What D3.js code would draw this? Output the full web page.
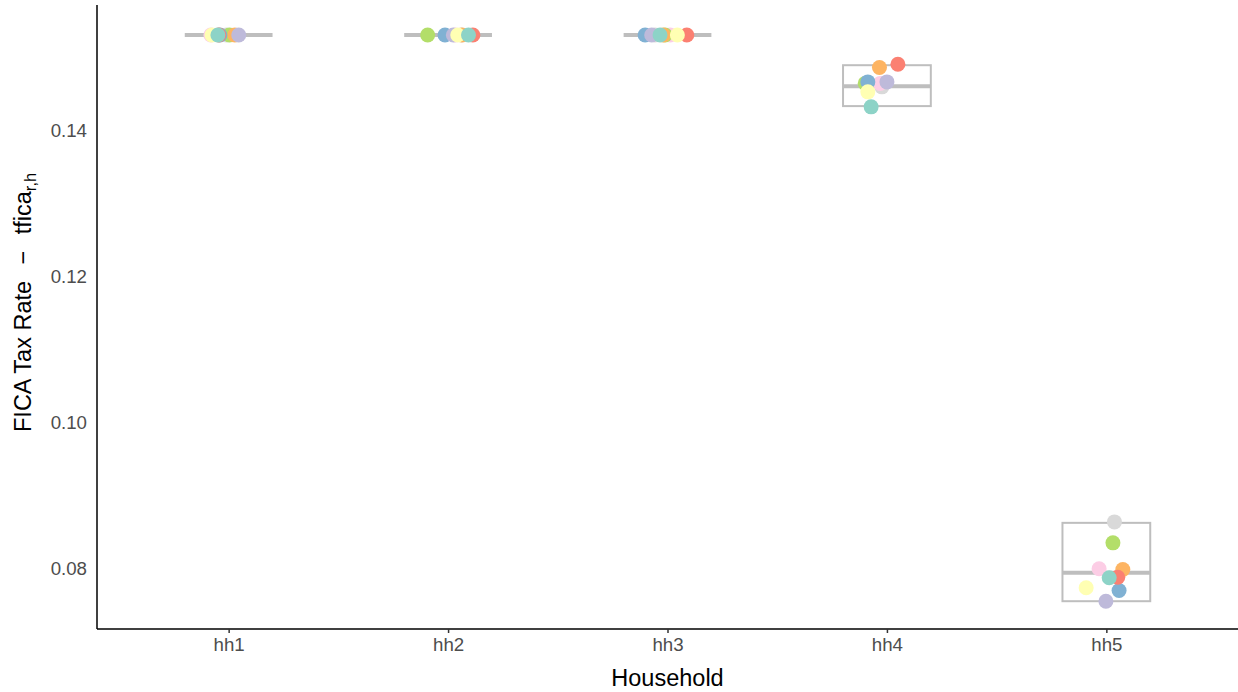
<!DOCTYPE html>
<html>
<head>
<meta charset="utf-8">
<script src="https://cdn.jsdelivr.net/npm/d3@7"></script>
<style>
  body { margin: 0; background: #fff; }
  text { font-family: "Liberation Sans", Arial, Helvetica, sans-serif; }
  .tick-label { fill: #4d4d4d; font-size: 18.7px; }
  .axis-title { fill: #000; font-size: 23.5px; }
</style>
</head>
<body>
<div id="vis"></div>
<script>
const frame_width = 1238;
const frame_height = 692;
const margins = {left: 97, right: 0, top: 5, bottom: 63};

// households on the x axis
const households = ["hh1", "hh2", "hh3", "hh4", "hh5"];

// series, drawn in this order (last on top)
const series = ["s9", "s8", "s7", "s6", "s5", "s4", "s3", "s2", "s1"];
const series_color = {
    s1: "#8DD3C7", s2: "#FFFFB3", s3: "#BEBADA", s4: "#FB8072", s5: "#80B1D3",
    s6: "#FDB462", s7: "#B3DE69", s8: "#FCCDE5", s9: "#D9D9D9"
};

// fica rate per series, one value per household (hh1..hh5)
const rate_s1 = [0.153, 0.153, 0.153, 0.14318, 0.07880];
const rate_s2 = [0.153, 0.153, 0.153, 0.14523, 0.07743];
const rate_s3 = [0.153, 0.153, 0.153, 0.14659, 0.07560];
const rate_s4 = [0.153, 0.153, 0.153, 0.14901, 0.07888];
const rate_s5 = [0.153, 0.153, 0.153, 0.14659, 0.07706];
const rate_s6 = [0.153, 0.153, 0.153, 0.14856, 0.07993];
const rate_s7 = [0.153, 0.153, 0.153, 0.14638, 0.08358];
const rate_s8 = [0.153, 0.153, 0.153, 0.14638, 0.08003];
const rate_s9 = [0.153, 0.153, 0.153, 0.14591, 0.08644];

// horizontal jitter (fraction of a category step)
const jit_s1 = [-0.049, 0.093, -0.034, -0.072, 0.013];
const jit_s2 = [-0.076, 0.044, 0.045, -0.087, -0.092];
const jit_s3 = [0.046, 0.024, -0.072, 0.000, -0.002];
const jit_s4 = [-0.045, 0.113, 0.088, 0.050, 0.052];
const jit_s5 = [-0.040, -0.014, -0.102, -0.087, 0.058];
const jit_s6 = [0.028, 0.062, -0.019, -0.034, 0.075];
const jit_s7 = [0.004, -0.093, -0.011, -0.099, 0.030];
const jit_s8 = [-0.081, 0.032, 0.012, -0.031, -0.033];
const jit_s9 = [-0.010, 0.064, -0.057, -0.023, 0.037];

// box summaries per household
const box_low = [0.153, 0.153, 0.153, 0.14328, 0.07560];
const box_mid = [0.153, 0.153, 0.153, 0.14601, 0.07948];
const box_high = [0.153, 0.153, 0.153, 0.14887, 0.08631];

const y_ticks = [0.08, 0.10, 0.12, 0.14];

const rates = {s1: rate_s1, s2: rate_s2, s3: rate_s3, s4: rate_s4, s5: rate_s5,
               s6: rate_s6, s7: rate_s7, s8: rate_s8, s9: rate_s9};
const jitters = {s1: jit_s1, s2: jit_s2, s3: jit_s3, s4: jit_s4, s5: jit_s5,
                 s6: jit_s6, s7: jit_s7, s8: jit_s8, s9: jit_s9};

const points = [];
series.forEach(s => {
    households.forEach((h, i) => {
        points.push({series: s, hh: h, rate: rates[s][i], jit: jitters[s][i]});
    });
});

const boxes = households.map((h, i) => ({hh: h, low: box_low[i], mid: box_mid[i], high: box_high[i]}));

const FRAME =
d3.select("#vis")
    .append("svg")
        .attr("width", frame_width)
        .attr("height", frame_height);

const X_SCALE = d3.scalePoint()
    .domain(households)
    .range([margins.left, frame_width - margins.right])
    .padding(0.6);

const STEP = X_SCALE.step();

const Y_SCALE = d3.scaleLinear()
    .domain([0.0718, 0.1571])
    .range([frame_height - margins.bottom, margins.top]);

// boxes
const box_g = FRAME.append("g");
boxes.forEach(b => {
    const cx = X_SCALE(b.hh);
    const half = STEP * 0.2;
    box_g.append("rect")
        .attr("x", cx - half)
        .attr("y", Y_SCALE(b.high))
        .attr("width", half * 2)
        .attr("height", Y_SCALE(b.low) - Y_SCALE(b.high))
        .attr("fill", "none")
        .attr("stroke", "#BEBEBE")
        .attr("stroke-width", 2);
    box_g.append("line")
        .attr("x1", cx - half)
        .attr("x2", cx + half)
        .attr("y1", Y_SCALE(b.mid))
        .attr("y2", Y_SCALE(b.mid))
        .attr("stroke", "#BEBEBE")
        .attr("stroke-width", 4);
});

// points
FRAME.append("g")
    .selectAll("circle")
    .data(points)
    .enter()
    .append("circle")
        .attr("cx", d => X_SCALE(d.hh) + d.jit * STEP)
        .attr("cy", d => Y_SCALE(d.rate))
        .attr("r", 7.5)
        .attr("fill", d => series_color[d.series]);

// x axis
const x_axis = FRAME.append("g")
    .attr("transform", "translate(0," + (frame_height - margins.bottom) + ")")
    .call(d3.axisBottom(X_SCALE).tickSize(4).tickPadding(5).tickSizeOuter(0));
x_axis.select(".domain")
    .attr("stroke", "#000")
    .attr("stroke-width", 1.5)
    .attr("d", "M" + margins.left + ",0H" + (frame_width - margins.right));
x_axis.selectAll(".tick line").attr("stroke", "#333").attr("stroke-width", 1.5);
x_axis.selectAll(".tick text")
    .attr("class", "tick-label")
    .attr("font-size", null)
    .attr("font-family", null);

// y axis
const y_axis = FRAME.append("g")
    .attr("transform", "translate(" + margins.left + ",0)")
    .call(d3.axisLeft(Y_SCALE).tickValues(y_ticks).tickFormat(d3.format(".2f")).tickSize(0).tickPadding(10).tickSizeOuter(0));
y_axis.select(".domain")
    .attr("stroke", "#000")
    .attr("stroke-width", 1.5)
    .attr("d", "M0," + margins.top + "V" + (frame_height - margins.bottom));
y_axis.selectAll(".tick text")
    .attr("class", "tick-label")
    .attr("font-size", null)
    .attr("font-family", null);

// titles
FRAME.append("text")
    .attr("class", "axis-title")
    .attr("x", (margins.left + frame_width - margins.right) / 2)
    .attr("y", 686)
    .attr("text-anchor", "middle")
    .text("Household");

const y_title = FRAME.append("text")
    .attr("class", "axis-title")
    .attr("transform", "translate(31,432) rotate(-90)")
    .attr("text-anchor", "start");
y_title.append("tspan").text("FICA Tax Rate\u2002\u2009\u2212\u2002\u2009tfica");
y_title.append("tspan")
    .attr("font-size", "16.5px")
    .attr("dy", 5)
    .text("r,h");
</script>
</body>
</html>
